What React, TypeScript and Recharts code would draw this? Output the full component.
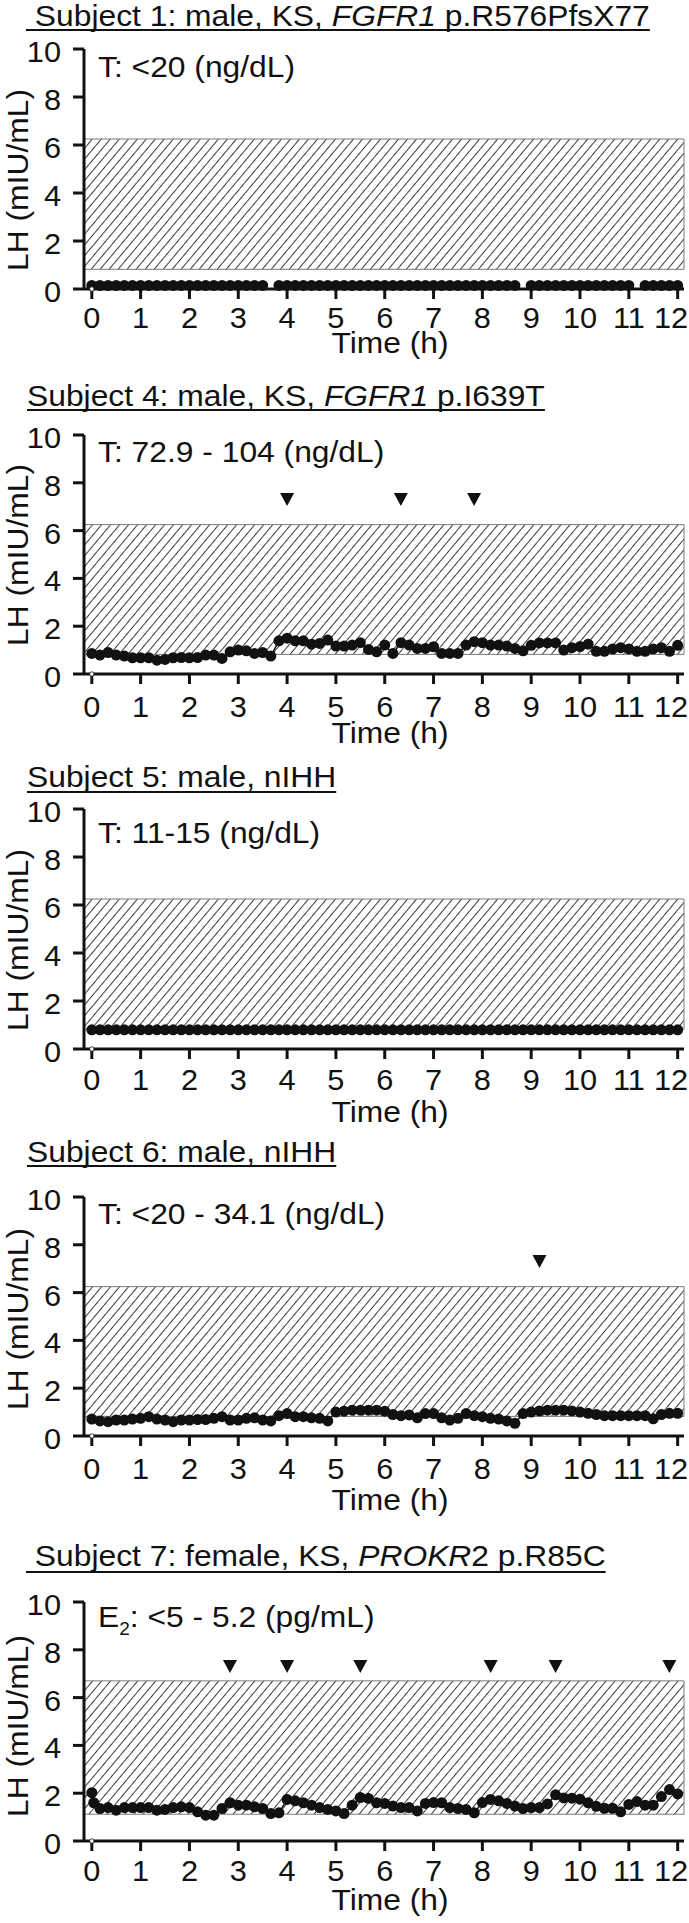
import React, { useLayoutEffect, useRef, useState } from 'react';
import { ComposedChart, Line, Scatter, XAxis, YAxis, ReferenceArea, ReferenceDot } from 'recharts';

const FONT = '"Liberation Sans", Arial, Helvetica, sans-serif';
const INK = '#111111';
const STRETCH = 1.06; // the source lettering runs a little wider than Arial
const TEXT_FONT = 30;
const TICK_FONT = 29;
const X_DOMAIN = [-0.16, 12.13];

// one blood draw every 10 min over 12 h
const sampleHours = Array.from({ length: 73 }, (_, i) => i / 6);

const hourTicks = [0, 1, 2, 3, 4, 5, 6, 7, 8, 9, 10, 11, 12];
const halfHourTicks = [0.5, 1.5, 2.5, 3.5, 4.5, 5.5, 6.5, 7.5, 8.5, 9.5, 10.5, 11.5];
const lhTicks = [0, 2, 4, 6, 8, 10];
const lhMinorTicks = [1, 3, 5, 7, 9];

const maleRange = [0.82, 6.25];
const femaleRange = [1.12, 6.7];
const PULSE_LH = 7.3;

// LH (mIU/mL), one row per hour
const subject1LH = [
  0.15, 0.15, 0.15, 0.15, 0.15, 0.15,
  0.15, 0.15, 0.15, 0.15, 0.15, 0.15,
  0.15, 0.15, 0.15, 0.15, 0.15, 0.15,
  0.15, 0.15, 0.15, 0.15, null, 0.15,
  0.15, 0.15, 0.15, 0.15, 0.15, 0.15,
  0.15, 0.15, 0.15, 0.15, 0.15, 0.15,
  0.15, 0.15, 0.15, 0.15, 0.15, 0.15,
  0.15, 0.15, 0.15, 0.15, 0.15, 0.15,
  0.15, 0.15, 0.15, 0.15, 0.15, null,
  0.15, 0.15, 0.15, 0.15, 0.15, 0.15,
  0.15, 0.15, 0.15, 0.15, 0.15, 0.15,
  0.15, null, 0.15, 0.15, 0.15, 0.15,
  0.15,
];

const subject4LH = [
  0.86, 0.79, 0.9, 0.79, 0.75, 0.68,
  0.68, 0.68, 0.58, 0.61, 0.68, 0.69,
  0.68, 0.69, 0.79, 0.79, 0.65, 0.93,
  1.0, 0.97, 0.86, 0.9, 0.75, 1.39,
  1.5, 1.39, 1.39, 1.25, 1.28, 1.42,
  1.17, 1.17, 1.21, 1.31, 1.03, 0.93,
  1.21, 0.86, 1.31, 1.21, 1.07, 1.07,
  1.14, 0.86, 0.86, 0.86, 1.21, 1.35,
  1.31, 1.21, 1.21, 1.17, 1.07, 0.97,
  1.2, 1.3, 1.3, 1.3, 1.0, 1.1,
  1.15, 1.25, 0.95, 0.95, 1.05, 1.1,
  1.05, 0.95, 0.95, 1.05, 1.1, 0.95,
  1.2,
];

const subject5LH = [
  0.8, 0.8, 0.8, 0.8, 0.8, 0.8,
  0.8, 0.8, 0.8, 0.8, 0.8, 0.8,
  0.8, 0.8, 0.8, 0.8, 0.8, 0.8,
  0.8, 0.8, 0.8, 0.8, 0.8, 0.8,
  0.8, 0.8, 0.8, 0.8, 0.8, 0.8,
  0.8, 0.8, 0.8, 0.8, 0.8, 0.8,
  0.8, 0.8, 0.8, 0.8, 0.8, 0.8,
  0.8, 0.8, 0.8, 0.8, 0.8, 0.8,
  0.8, 0.8, 0.8, 0.8, 0.8, 0.8,
  0.8, 0.8, 0.8, 0.8, 0.8, 0.8,
  0.8, 0.8, 0.8, 0.8, 0.8, 0.8,
  0.8, 0.8, 0.8, 0.8, 0.8, 0.8,
  0.8,
];

const subject6LH = [
  0.71, 0.63, 0.6, 0.67, 0.67, 0.71,
  0.74, 0.81, 0.71, 0.67, 0.6, 0.67,
  0.67, 0.69, 0.69, 0.74, 0.81, 0.67,
  0.67, 0.74, 0.76, 0.67, 0.63, 0.85,
  0.94, 0.81, 0.81, 0.76, 0.74, 0.63,
  1.0, 1.04, 1.08, 1.08, 1.08, 1.08,
  1.04, 0.9, 0.85, 0.88, 0.76, 0.94,
  0.94, 0.76, 0.67, 0.74, 0.94, 0.85,
  0.81, 0.74, 0.71, 0.63, 0.53, 0.94,
  1.0, 1.05, 1.08, 1.08, 1.08, 1.05,
  1.0, 0.95, 0.9, 0.85, 0.85, 0.85,
  0.85, 0.85, 0.85, 0.72, 0.9, 0.95,
  0.95,
];

// subject 7 has a duplicate draw right at time 0
const subject7Hours = [0, 0.04, ...sampleHours.slice(1)];
const subject7LH = [
  2.02, 1.6, 1.36, 1.4, 1.29, 1.4, 1.4,
  1.4, 1.4, 1.29, 1.32, 1.4, 1.43,
  1.4, 1.22, 1.08, 1.08, 1.36, 1.6,
  1.5, 1.5, 1.43, 1.36, 1.15, 1.18,
  1.74, 1.68, 1.6, 1.5, 1.4, 1.32,
  1.26, 1.15, 1.5, 1.82, 1.78, 1.6,
  1.57, 1.46, 1.4, 1.4, 1.26, 1.57,
  1.61, 1.6, 1.4, 1.36, 1.32, 1.18,
  1.61, 1.74, 1.68, 1.57, 1.46, 1.36,
  1.4, 1.4, 1.55, 1.93, 1.8, 1.79,
  1.75, 1.6, 1.45, 1.37, 1.37, 1.22,
  1.53, 1.65, 1.5, 1.5, 1.86, 2.15,
  1.97,
];

// detected LH pulses (h)
const subject4Pulses = [4.0, 6.33, 7.83];
const subject6Pulses = [9.17];
const subject7Pulses = [2.83, 4.0, 5.5, 8.17, 9.5, 11.83];

const Label = ({ x, y, size = TEXT_FONT, anchor = 'start', rotate = 0, children, ...rest }: any) => (
  <text
    transform={`translate(${x} ${y})${rotate ? ` rotate(${rotate})` : ''} scale(${STRETCH} 1)`}
    fontFamily={FONT}
    fontSize={size}
    fill={INK}
    textAnchor={anchor}
    {...rest}
  >
    {children}
  </text>
);

// title with a drawn underline, a little lower than the font's own
function Title({ x, y, underlineY, children }: any) {
  const ref = useRef<SVGTextElement>(null);
  const [w, setW] = useState(0);
  useLayoutEffect(() => {
    if (ref.current) setW(ref.current.getBBox().width);
  }, []);
  return (
    <g transform={`translate(${x} ${y}) scale(${STRETCH} 1)`}>
      <text ref={ref} fontFamily={FONT} fontSize={TEXT_FONT} fill={INK} style={{ whiteSpace: 'pre' }}>
        {children}
      </text>
      {w > 0 && <line x1={0} x2={w} y1={underlineY - y} y2={underlineY - y} stroke={INK} strokeWidth={2.2} />}
    </g>
  );
}

const PulseMark = (props: any) => {
  const { cx, cy } = props;
  if (cx == null || cy == null) return null;
  return <polygon points={`${cx - 7},${cy - 6.5} ${cx + 7},${cy - 6.5} ${cx},${cy + 6.5}`} fill={INK} />;
};

const panels = [
  {
    key: 's1',
    title: (
      <>
        {' '}Subject 1: male, KS, <tspan fontStyle="italic">FGFR1</tspan> p.R576PfsX77
      </>
    ),
    note: 'T: <20 (ng/dL)',
    hours: sampleHours,
    lh: subject1LH,
    pulses: [] as number[],
    range: maleRange,
    layout: { y10: 49, y0: 289, titleX: 26, titleBase: 26, underlineY: 30, noteBase: 77, yLabelCy: 180, tickTop: 18, labelTop: 43 },
  },
  {
    key: 's4',
    title: (
      <>
        Subject 4: male, KS, <tspan fontStyle="italic">FGFR1</tspan> p.I639T
      </>
    ),
    note: 'T: 72.9 - 104 (ng/dL)',
    hours: sampleHours,
    lh: subject4LH,
    pulses: subject4Pulses,
    range: maleRange,
    layout: { y10: 435, y0: 674, titleX: 27, titleBase: 406, underlineY: 410, noteBase: 462, yLabelCy: 555, tickTop: 22, labelTop: 48 },
  },
  {
    key: 's5',
    title: <>Subject 5: male, nIHH</>,
    note: 'T: 11-15 (ng/dL)',
    hours: sampleHours,
    lh: subject5LH,
    pulses: [] as number[],
    range: maleRange,
    layout: { y10: 809, y0: 1049, titleX: 27, titleBase: 787, underlineY: 792, noteBase: 843, yLabelCy: 940, tickTop: 20, labelTop: 52 },
  },
  {
    key: 's6',
    title: <>Subject 6: male, nIHH</>,
    note: 'T: <20 - 34.1 (ng/dL)',
    hours: sampleHours,
    lh: subject6LH,
    pulses: subject6Pulses,
    range: maleRange,
    layout: { y10: 1197, y0: 1436, titleX: 27, titleBase: 1162, underlineY: 1166, noteBase: 1224, yLabelCy: 1319, tickTop: 22, labelTop: 53 },
  },
  {
    key: 's7',
    title: (
      <>
        {' '}Subject 7: female, KS, <tspan fontStyle="italic">PROKR</tspan>2 p.R85C
      </>
    ),
    note: (
      <>
        E<tspan fontSize={18} dy={8}>2</tspan>
        <tspan dy={-8}>: &lt;5 - 5.2 (pg/mL)</tspan>
      </>
    ),
    hours: subject7Hours,
    lh: subject7LH,
    pulses: subject7Pulses,
    range: femaleRange,
    layout: { y10: 1602, y0: 1841, titleX: 26, titleBase: 1566, underlineY: 1572, noteBase: 1627, yLabelCy: 1726, tickTop: 19, labelTop: 48 },
  },
];

const CHART_H = 340;
const PAD_TOP = 20;

function Panel({ p }: any) {
  const { y10, y0, tickTop } = p.layout;
  const plotH = y0 - y10;
  const data = p.hours.map((t: number, i: number) => ({ t, lh: p.lh[i] }));
  const marks = p.pulses.map((t: number) => ({ t, lh: PULSE_LH }));
  const axisStroke = { stroke: INK, strokeWidth: 3 };

  // every axis takes 1px of layout (two per side); the margins make up for it
  return (
    <div style={{ position: 'absolute', left: 0, top: y10 - PAD_TOP }}>
      <ComposedChart
        width={689}
        height={CHART_H}
        data={data}
        margin={{ top: PAD_TOP, right: 5, bottom: CHART_H - PAD_TOP - plotH - 2, left: 82 }}
      >
        <XAxis
          xAxisId="h"
          type="number"
          dataKey="t"
          domain={X_DOMAIN}
          ticks={hourTicks}
          interval={0}
          height={1}
          tickSize={10}
          tickMargin={0}
          axisLine={axisStroke}
          tickLine={axisStroke}
          tick={(tp: any) => (
            <Label x={Math.min(tp.x, 671)} y={tp.y - 10 + tickTop + 21} size={TICK_FONT} anchor="middle">
              {tp.payload.value}
            </Label>
          )}
        />
        <XAxis
          xAxisId="half"
          type="number"
          dataKey="t"
          domain={X_DOMAIN}
          ticks={halfHourTicks}
          interval={0}
          height={1}
          tick={false}
          tickSize={4}
          axisLine={false}
          tickLine={axisStroke}
        />
        <YAxis
          yAxisId="lh"
          type="number"
          domain={[0, 10]}
          ticks={lhTicks}
          interval={0}
          width={1}
          tickSize={11}
          tickMargin={0}
          axisLine={axisStroke}
          tickLine={axisStroke}
          tick={(tp: any) => (
            <Label x={tp.x - 12} y={tp.y + 13} size={TICK_FONT} anchor="end">
              {tp.payload.value}
            </Label>
          )}
        />
        <YAxis
          yAxisId="minor"
          type="number"
          domain={[0, 10]}
          ticks={lhMinorTicks}
          interval={0}
          width={1}
          tick={false}
          tickSize={4}
          axisLine={false}
          tickLine={axisStroke}
        />
        <ReferenceArea
          xAxisId="h"
          yAxisId="lh"
          y1={p.range[0]}
          y2={p.range[1]}
          fill="url(#hatch)"
          fillOpacity={1}
          stroke="#7a7a7a"
          strokeWidth={1}
        />
        <Line
          xAxisId="h"
          yAxisId="lh"
          dataKey="lh"
          stroke={INK}
          strokeWidth={1.5}
          connectNulls={false}
          dot={{ r: 5.5, fill: INK, stroke: INK, strokeWidth: 0 }}
          activeDot={false}
          isAnimationActive={false}
        />
        {marks.length > 0 && (
          <Scatter
            xAxisId="h"
            yAxisId="lh"
            data={marks}
            dataKey="lh"
            shape={PulseMark}
            isAnimationActive={false}
          />
        )}
        <ReferenceDot
          xAxisId="h"
          yAxisId="lh"
          x={0}
          y={0}
          r={2.2}
          fill="#ffffff"
          stroke={INK}
          strokeWidth={0.8}
          ifOverflow="visible"
        />
      </ComposedChart>
    </div>
  );
}

export default function App() {
  return (
    <div
      style={{
        position: 'absolute',
        left: 0,
        top: 0,
        width: 689,
        height: 1923,
        background: '#ffffff',
        overflow: 'hidden',
      }}
    >
      <svg width={0} height={0} style={{ position: 'absolute' }}>
        <defs>
          <pattern
            id="hatch"
            patternUnits="userSpaceOnUse"
            width={6.9}
            height={10}
            patternTransform="rotate(40)"
          >
            <rect width={6.9} height={10} fill="#ffffff" />
            <line x1={3.45} y1={0} x2={3.45} y2={10} stroke="#3a3a3a" strokeWidth={1} />
          </pattern>
        </defs>
      </svg>

      {panels.map((p) => (
        <Panel key={p.key} p={p} />
      ))}

      <svg
        width={689}
        height={1923}
        style={{ position: 'absolute', left: 0, top: 0, pointerEvents: 'none' }}
      >
        {panels.map((p) => {
          const L = p.layout;
          return (
            <g key={p.key}>
              <Title x={L.titleX} y={L.titleBase} underlineY={L.underlineY}>
                {p.title}
              </Title>
              <Label x={98} y={L.noteBase}>
                {p.note}
              </Label>
              <Label x={28} y={L.yLabelCy} anchor="middle" rotate={-90}>
                LH (mIU/mL)
              </Label>
              <Label x={390} y={L.y0 + L.labelTop + 21} anchor="middle">
                Time (h)
              </Label>
            </g>
          );
        })}
      </svg>
    </div>
  );
}
